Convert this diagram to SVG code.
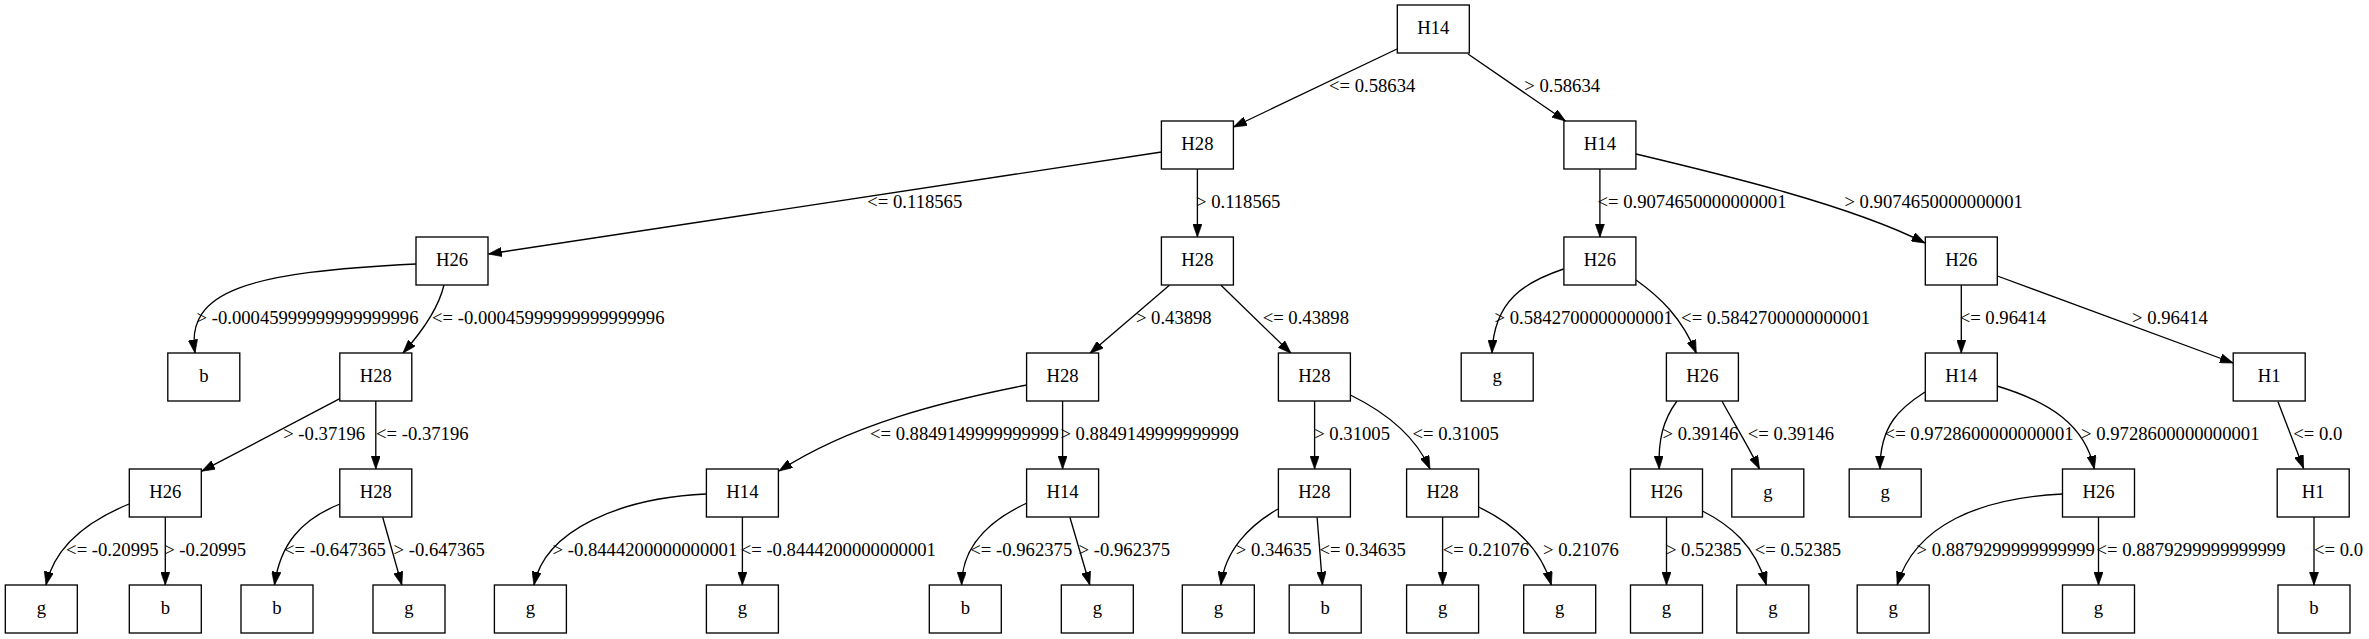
<svg xmlns="http://www.w3.org/2000/svg" width="2369" height="639" viewBox="0 0 2369 639">
<defs>
<style>
.n rect{fill:#fff;stroke:#000;stroke-width:1.33}
.n text{font-family:"Liberation Serif","Times New Roman",serif;font-size:18.67px;text-anchor:middle;fill:#000}
.e path{fill:none;stroke:#000;stroke-width:1.33;marker-end:url(#ah)}
.l text{font-family:"Liberation Serif","Times New Roman",serif;font-size:18.67px;text-anchor:middle;fill:#000}
</style>
<marker id="ah" viewBox="0 0 10 7" refX="10" refY="3.5" markerUnits="userSpaceOnUse" markerWidth="13.3" markerHeight="9.3" orient="auto">
<path d="M0,0 L10,3.5 L0,7 z" fill="#000" stroke="#000" stroke-width="0.5"/>
</marker>
</defs>
<rect width="2369" height="639" fill="#fff"/>

<g id="edges" class="e">
<path d="M1397,49 L1233.5,127"/>
<path d="M1468,54 L1565.5,121"/>
<path d="M1161.5,152 L488.5,254"/>
<path d="M1197.4,169 L1197.4,237"/>
<path d="M1599.9,169 L1599.9,237"/>
<path d="M1636,154 C1720,174 1850,205 1925,243"/>
<path d="M416,264 C250,272 185,290 195,353"/>
<path d="M444,285 C440,302 428,325 403,353"/>
<path d="M1169.4,285.3 L1090,353.3"/>
<path d="M1221,285.3 L1291,353.3"/>
<path d="M1563.5,269 C1525,282 1494,300 1492,353"/>
<path d="M1636,280 C1660,297 1682,318 1696.3,353.3"/>
<path d="M1961.3,285 L1961.3,353"/>
<path d="M1997.4,276 L2233.2,363"/>
<path d="M339.8,398.7 L201.7,471.2"/>
<path d="M375.8,401 L375.8,469"/>
<path d="M1027,385 C940,402 850,425 779,471"/>
<path d="M1062.6,401 L1062.6,469"/>
<path d="M1314.6,401 L1314.6,469"/>
<path d="M1350.4,395 C1385,412 1415,435 1430,469"/>
<path d="M1677,401 C1663,420 1658,440 1659.2,469"/>
<path d="M1722,401 C1732,420 1745,440 1759.5,469"/>
<path d="M1925,392 C1900,408 1880,425 1880,469"/>
<path d="M1997,386 C2050,402 2085,425 2094.3,469"/>
<path d="M2278,401.7 L2303.6,468.5"/>
<path d="M129,504 C90,520 55,545 46,585"/>
<path d="M165.3,517 L165.3,585"/>
<path d="M340,504 C300,520 280,545 274.5,585"/>
<path d="M382.7,517.3 L401.8,585"/>
<path d="M706,494 C620,498 545,530 534,585"/>
<path d="M742.4,517 L742.4,585"/>
<path d="M1027,503 C990,520 962,545 961.6,585"/>
<path d="M1069.9,517.3 L1089.8,585"/>
<path d="M1278,509 C1250,525 1225,550 1221,585"/>
<path d="M1317.1,517.3 L1322.5,585"/>
<path d="M1442.6,517 L1442.6,585"/>
<path d="M1478.6,507 C1510,522 1540,545 1551.3,585"/>
<path d="M1666.5,517 L1666.5,585"/>
<path d="M1702.4,511 C1730,525 1755,545 1766.3,585"/>
<path d="M2062.5,494 C1980,498 1915,525 1897.2,585"/>
<path d="M2098.5,517 L2098.5,585"/>
<path d="M2314,517 L2314,585"/>
</g>

<g id="edge-labels" class="l">
<text x="1372.2" y="91.7">&lt;= 0.58634</text>
<text x="1562.2" y="91.7">&gt; 0.58634</text>
<text x="914.8" y="207.7">&lt;= 0.118565</text>
<text x="1238.2" y="207.7">&gt; 0.118565</text>
<text x="1692" y="207.7">&lt;= 0.9074650000000001</text>
<text x="1933.6" y="207.7">&gt; 0.9074650000000001</text>
<text x="307.5" y="323.5">&gt; -0.00045999999999999996</text>
<text x="548.3" y="323.5">&lt;= -0.00045999999999999996</text>
<text x="1173.8" y="323.5">&gt; 0.43898</text>
<text x="1305.8" y="323.5">&lt;= 0.43898</text>
<text x="1583.7" y="323.5">&gt; 0.5842700000000001</text>
<text x="1775.6" y="323.5">&lt;= 0.5842700000000001</text>
<text x="2002.8" y="323.5">&lt;= 0.96414</text>
<text x="2169.9" y="323.5">&gt; 0.96414</text>
<text x="324.2" y="439.5">&gt; -0.37196</text>
<text x="422.3" y="439.5">&lt;= -0.37196</text>
<text x="964.4" y="439.5">&lt;= 0.8849149999999999</text>
<text x="1149.6" y="439.5">&gt; 0.8849149999999999</text>
<text x="1352.1" y="439.5">&gt; 0.31005</text>
<text x="1455.7" y="439.5">&lt;= 0.31005</text>
<text x="1700.4" y="439.5">&gt; 0.39146</text>
<text x="1791" y="439.5">&lt;= 0.39146</text>
<text x="1979.1" y="439.5">&lt;= 0.9728600000000001</text>
<text x="2170.3" y="439.5">&gt; 0.9728600000000001</text>
<text x="2317.8" y="439.5">&lt;= 0.0</text>
<text x="112.4" y="555.5">&lt;= -0.20995</text>
<text x="205.2" y="555.5">&gt; -0.20995</text>
<text x="334.9" y="555.5">&lt;= -0.647365</text>
<text x="439.2" y="555.5">&gt; -0.647365</text>
<text x="644.9" y="555.5">&gt; -0.8444200000000001</text>
<text x="838.3" y="555.5">&lt;= -0.8444200000000001</text>
<text x="1021.3" y="555.5">&lt;= -0.962375</text>
<text x="1124.3" y="555.5">&gt; -0.962375</text>
<text x="1273.7" y="555.5">&gt; 0.34635</text>
<text x="1362.7" y="555.5">&lt;= 0.34635</text>
<text x="1485.9" y="555.5">&lt;= 0.21076</text>
<text x="1581" y="555.5">&gt; 0.21076</text>
<text x="1703.8" y="555.5">&gt; 0.52385</text>
<text x="1798" y="555.5">&lt;= 0.52385</text>
<text x="2005.7" y="555.5">&gt; 0.8879299999999999</text>
<text x="2191" y="555.5">&lt;= 0.8879299999999999</text>
<text x="2338.5" y="555.5">&lt;= 0.0</text>
</g>

<g id="n0" class="n"><rect x="1397.3" y="5" width="72" height="48"/><text x="1433.3" y="34.3">H14</text></g>
<g id="n1" class="n"><rect x="1161.4" y="121" width="72" height="48"/><text x="1197.4" y="150.3">H28</text></g>
<g id="n2" class="n"><rect x="1563.9" y="121" width="72" height="48"/><text x="1599.9" y="150.3">H14</text></g>
<g id="n3" class="n"><rect x="416" y="237" width="72" height="48"/><text x="452" y="266.3">H26</text></g>
<g id="n4" class="n"><rect x="1161.4" y="237" width="72" height="48"/><text x="1197.4" y="266.3">H28</text></g>
<g id="n5" class="n"><rect x="1563.9" y="237" width="72" height="48"/><text x="1599.9" y="266.3">H26</text></g>
<g id="n6" class="n"><rect x="1925.3" y="237" width="72" height="48"/><text x="1961.3" y="266.3">H26</text></g>
<g id="n7" class="n"><rect x="167.8" y="353" width="72" height="48"/><text x="203.8" y="382.3">b</text></g>
<g id="n8" class="n"><rect x="339.8" y="353" width="72" height="48"/><text x="375.8" y="382.3">H28</text></g>
<g id="n9" class="n"><rect x="1026.6" y="353" width="72" height="48"/><text x="1062.6" y="382.3">H28</text></g>
<g id="n10" class="n"><rect x="1278.4" y="353" width="72" height="48"/><text x="1314.4" y="382.3">H28</text></g>
<g id="n11" class="n"><rect x="1461.2" y="353" width="72" height="48"/><text x="1497.2" y="382.3">g</text></g>
<g id="n12" class="n"><rect x="1666.4" y="353" width="72" height="48"/><text x="1702.4" y="382.3">H26</text></g>
<g id="n13" class="n"><rect x="1925.3" y="353" width="72" height="48"/><text x="1961.3" y="382.3">H14</text></g>
<g id="n14" class="n"><rect x="2233.2" y="353" width="72" height="48"/><text x="2269.2" y="382.3">H1</text></g>
<g id="n15" class="n"><rect x="129.3" y="469" width="72" height="48"/><text x="165.3" y="498.3">H26</text></g>
<g id="n16" class="n"><rect x="339.8" y="469" width="72" height="48"/><text x="375.8" y="498.3">H28</text></g>
<g id="n17" class="n"><rect x="706.4" y="469" width="72" height="48"/><text x="742.4" y="498.3">H14</text></g>
<g id="n18" class="n"><rect x="1026.6" y="469" width="72" height="48"/><text x="1062.6" y="498.3">H14</text></g>
<g id="n19" class="n"><rect x="1278.4" y="469" width="72" height="48"/><text x="1314.4" y="498.3">H28</text></g>
<g id="n20" class="n"><rect x="1406.6" y="469" width="72" height="48"/><text x="1442.6" y="498.3">H28</text></g>
<g id="n21" class="n"><rect x="1630.5" y="469" width="72" height="48"/><text x="1666.5" y="498.3">H26</text></g>
<g id="n22" class="n"><rect x="1731.8" y="469" width="72" height="48"/><text x="1767.8" y="498.3">g</text></g>
<g id="n23" class="n"><rect x="1849.2" y="469" width="72" height="48"/><text x="1885.2" y="498.3">g</text></g>
<g id="n24" class="n"><rect x="2062.5" y="469" width="72" height="48"/><text x="2098.5" y="498.3">H26</text></g>
<g id="n25" class="n"><rect x="2277.2" y="469" width="72" height="48"/><text x="2313.2" y="498.3">H1</text></g>
<g id="n26" class="n"><rect x="5.3" y="585" width="72" height="48"/><text x="41.3" y="614.3">g</text></g>
<g id="n27" class="n"><rect x="129.3" y="585" width="72" height="48"/><text x="165.3" y="614.3">b</text></g>
<g id="n28" class="n"><rect x="241" y="585" width="72" height="48"/><text x="277" y="614.3">b</text></g>
<g id="n29" class="n"><rect x="373" y="585" width="72" height="48"/><text x="409" y="614.3">g</text></g>
<g id="n30" class="n"><rect x="494.4" y="585" width="72" height="48"/><text x="530.4" y="614.3">g</text></g>
<g id="n31" class="n"><rect x="706.4" y="585" width="72" height="48"/><text x="742.4" y="614.3">g</text></g>
<g id="n32" class="n"><rect x="929.3" y="585" width="72" height="48"/><text x="965.3" y="614.3">b</text></g>
<g id="n33" class="n"><rect x="1061.3" y="585" width="72" height="48"/><text x="1097.3" y="614.3">g</text></g>
<g id="n34" class="n"><rect x="1182.3" y="585" width="72" height="48"/><text x="1218.3" y="614.3">g</text></g>
<g id="n35" class="n"><rect x="1289.2" y="585" width="72" height="48"/><text x="1325.2" y="614.3">b</text></g>
<g id="n36" class="n"><rect x="1406.6" y="585" width="72" height="48"/><text x="1442.6" y="614.3">g</text></g>
<g id="n37" class="n"><rect x="1523.7" y="585" width="72" height="48"/><text x="1559.7" y="614.3">g</text></g>
<g id="n38" class="n"><rect x="1630.5" y="585" width="72" height="48"/><text x="1666.5" y="614.3">g</text></g>
<g id="n39" class="n"><rect x="1736.8" y="585" width="72" height="48"/><text x="1772.8" y="614.3">g</text></g>
<g id="n40" class="n"><rect x="1857.2" y="585" width="72" height="48"/><text x="1893.2" y="614.3">g</text></g>
<g id="n41" class="n"><rect x="2062.5" y="585" width="72" height="48"/><text x="2098.5" y="614.3">g</text></g>
<g id="n42" class="n"><rect x="2278" y="585" width="72" height="48"/><text x="2314" y="614.3">b</text></g>
</svg>
